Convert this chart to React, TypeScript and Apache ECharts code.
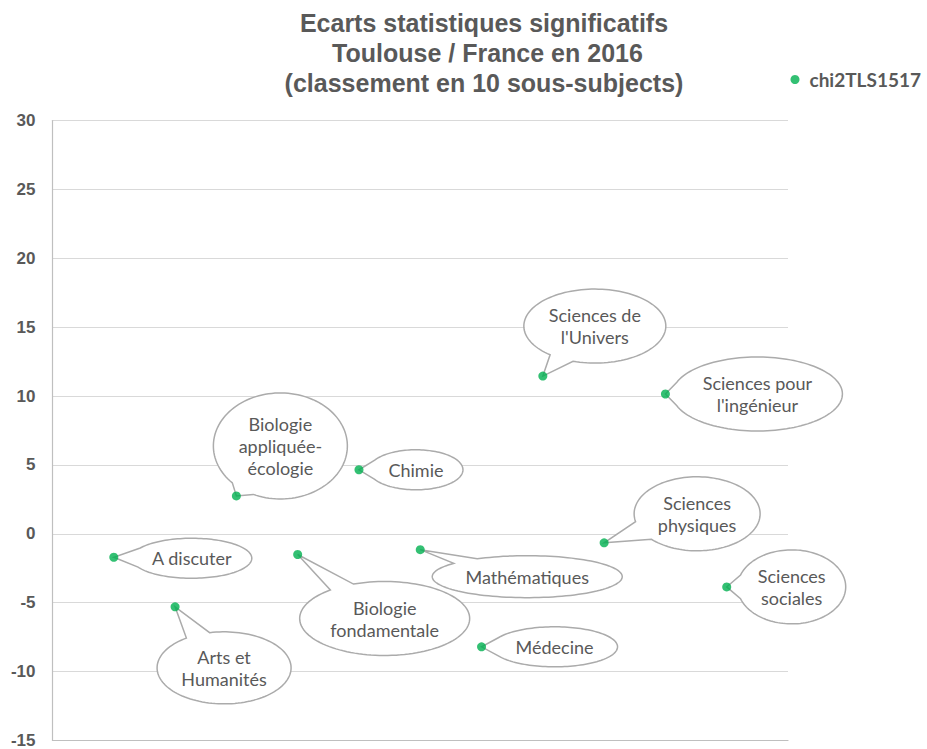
import React, { useEffect, useRef } from "react";
import * as echarts from "echarts";

// ---- Data ----
const categories: string[] = [
  "A discuter",
  "Arts et\nHumanités",
  "Biologie\nappliquée-\nécologie",
  "Biologie\nfondamentale",
  "Chimie",
  "Mathématiques",
  "Médecine",
  "Sciences de\nl'Univers",
  "Sciences\nphysiques",
  "Sciences pour\nl'ingénieur",
  "Sciences\nsociales",
];
const xPositions: number[] = [1, 2, 3, 4, 5, 6, 7, 8, 9, 10, 11];
const chi2Values: number[] = [-1.7, -5.3, 2.75, -1.5, 4.65, -1.15, -8.2, 11.45, -0.65, 10.15, -3.85];
const seriesName = "chi2TLS1517";
const yMin = -15;
const yMax = 30;
const yStep = 5;
const titleText =
  "Ecarts statistiques significatifs\n Toulouse / France en 2016\n(classement en 10 sous-subjects)";

// ---- Callout bubble placement (offset of ellipse centre from point, radii) ----
const bubbleLayout = [
  { dx: 78, dy: 1, rx: 60, ry: 20 },
  { dx: 49, dy: 61, rx: 67, ry: 36 },
  { dx: 44, dy: -50, rx: 67, ry: 53 },
  { dx: 87, dy: 64, rx: 85, ry: 37 },
  { dx: 57, dy: 0, rx: 47, ry: 20 },
  { dx: 107, dy: 27, rx: 95, ry: 21 },
  { dx: 73, dy: 0, rx: 63, ry: 20 },
  { dx: 52, dy: -50, rx: 71, ry: 37 },
  { dx: 93, dy: -29, rx: 63, ry: 37 },
  { dx: 92, dy: 0, rx: 85, ry: 37 },
  { dx: 65, dy: 0, rx: 54, ry: 37 },
];

const GRAY_TEXT = "#595959";

export default function App() {
  const ref = useRef<HTMLDivElement>(null);

  useEffect(() => {
    if (!ref.current) return;
    const chart = echarts.init(ref.current, null, { renderer: "svg" });
    const points = xPositions.map((x, i) => [x, chi2Values[i]]);

    const option: any = {
      animation: false,
      backgroundColor: "#ffffff",
      title: {
        text: titleText,
        left: 484,
        top: 7.5,
        padding: 0,
        textAlign: "center",
        textStyle: {
          fontFamily: "Liberation Sans",
          fontSize: 25,
          fontWeight: "bold",
          color: GRAY_TEXT,
          lineHeight: 30,
        },
      },
      legend: {
        data: [seriesName],
        left: 790.5,
        top: 70,
        padding: 0,
        icon: "circle",
        itemWidth: 19,
        itemHeight: 9,
        textStyle: {
          fontFamily: "Lato",
          fontSize: 19,
          fontWeight: "bold",
          color: GRAY_TEXT,
        },
      },
      grid: {
        left: 52.5,
        top: 120.5,
        width: 735.5,
        height: 621,
        containLabel: false,
      },
      xAxis: {
        type: "value",
        min: 0,
        max: 12,
        axisLine: { show: true, onZero: false, lineStyle: { color: "#bfbfbf", width: 1.2 } },
        axisTick: { show: false },
        axisLabel: { show: false },
        splitLine: { show: false },
      },
      yAxis: {
        type: "value",
        min: yMin,
        max: yMax,
        interval: yStep,
        axisLine: { show: true, onZero: false, lineStyle: { color: "#bfbfbf", width: 1.2 } },
        axisTick: { show: false },
        axisLabel: {
          margin: 17,
          fontFamily: "Liberation Sans",
          fontSize: 17,
          fontWeight: "bold",
          color: GRAY_TEXT,
        },
        splitLine: { show: true, lineStyle: { color: "#d9d9d9", width: 1 } },
      },
      series: [
        {
          name: "callouts",
          type: "custom",
          z: 2,
          clip: false,
          silent: true,
          data: points,
          renderItem: (params: any, api: any) => {
            const i = params.dataIndex;
            const pt = api.coord([api.value(0), api.value(1)]);
            const L = bubbleLayout[i];
            const cx = pt[0] + L.dx;
            const cy = pt[1] + L.dy;
            const tx = pt[0];
            const ty = pt[1];
            const t0 = Math.atan2((ty - cy) / L.ry, (tx - cx) / L.rx);
            const localR = Math.hypot(L.rx * Math.sin(t0), L.ry * Math.cos(t0));
            const d = Math.min(0.5, 12 / localR);
            const pts: number[][] = [];
            const N = 120;
            for (let k = 0; k <= N; k++) {
              const t = t0 + d + ((2 * Math.PI - 2 * d) * k) / N;
              pts.push([cx + L.rx * Math.cos(t), cy + L.ry * Math.sin(t)]);
            }
            pts.push([tx, ty]);
            return {
              type: "group",
              children: [
                {
                  type: "polygon",
                  shape: { points: pts },
                  style: { fill: "#ffffff", stroke: "#ababab", lineWidth: 1.5 },
                },
                {
                  type: "text",
                  x: cx,
                  y: cy,
                  style: {
                    text: categories[i],
                    align: "center",
                    verticalAlign: "middle",
                    fill: GRAY_TEXT,
                    fontSize: 18,
                    fontFamily: "Lato",
                    lineHeight: 22,
                  },
                },
              ],
            };
          },
        },
        {
          name: seriesName,
          type: "scatter",
          z: 5,
          symbol: "circle",
          symbolSize: 9,
          itemStyle: { color: "#00b050" },
          data: points,
        },
      ],
    };

    chart.setOption(option);
    return () => {
      chart.dispose();
    };
  }, []);

  return (
    <div
      ref={ref}
      style={{ position: "fixed", left: 0, top: 0, width: 927, height: 749, background: "#fff" }}
    />
  );
}
